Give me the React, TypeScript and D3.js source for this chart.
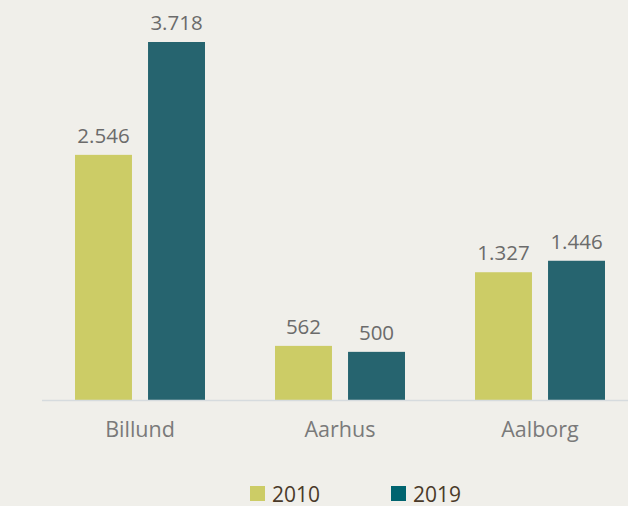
import React from "react";
import * as d3 from "d3";

const categories = ["Billund", "Aarhus", "Aalborg"];
const seriesNames = ["2010", "2019"];
const values2010 = [2546, 562, 1327];
const values2019 = [3718, 500, 1446];
const valueLabels2010 = ["2.546", "562", "1.327"];
const valueLabels2019 = ["3.718", "500", "1.446"];

const W = 628;
const H = 506;
const barColors = ["#cccc66", "#26646f"];
const legendColors = ["#cccc66", "#00646f"];
const FONT = "'Open Sans', 'Noto Sans', sans-serif";

export default function App() {
  const x = d3.scaleBand<string>().domain(categories).range([40, 640]).padding(0);
  const inner = d3
    .scaleBand<string>()
    .domain(seriesNames)
    .range([35, 165])
    .paddingInner(0.22)
    .paddingOuter(0);
  const y = d3.scaleLinear().domain([0, 3718]).range([400, 42]);
  const series = [
    { name: seriesNames[0], vals: values2010, labels: valueLabels2010 },
    { name: seriesNames[1], vals: values2019, labels: valueLabels2019 },
  ];
  return (
    <svg
      width={W}
      height={H}
      style={{ position: "fixed", left: 0, top: 0, background: "#f0efea" }}
    >
      <rect x={0} y={0} width={W} height={H} fill="#f0efea" />
      {series.map((s, si) =>
        categories.map((c, ci) => {
          const bx = (x(c) as number) + (inner(s.name) as number);
          const by = y(s.vals[ci]);
          return (
            <g key={s.name + c}>
              <rect
                x={bx}
                y={by}
                width={inner.bandwidth()}
                height={y(0) - by}
                fill={barColors[si]}
              />
              <text
                x={bx + inner.bandwidth() / 2}
                y={by - 12}
                textAnchor="middle"
                fontFamily={FONT}
                fontSize={20.5}
                fill="#6b6b6b"
              >
                {s.labels[ci]}
              </text>
            </g>
          );
        })
      )}
      <line x1={42} x2={W} y1={400.5} y2={400.5} stroke="#d6dbde" strokeWidth={1.5} />
      {categories.map((c) => (
        <text
          key={c}
          x={(x(c) as number) + x.bandwidth() / 2}
          y={437}
          textAnchor="middle"
          fontFamily={FONT}
          fontSize={21.5}
          fill="#7a7a7a"
        >
          {c}
        </text>
      ))}
      {seriesNames.map((n, i) => (
        <g key={n} transform={`translate(${250 + i * 141},486)`}>
          <rect x={0} y={0} width={15} height={15} fill={legendColors[i]} />
          <text x={22} y={15.5} fontFamily={FONT} fontSize={21} fill="#4a3a28">
            {n}
          </text>
        </g>
      ))}
    </svg>
  );
}
